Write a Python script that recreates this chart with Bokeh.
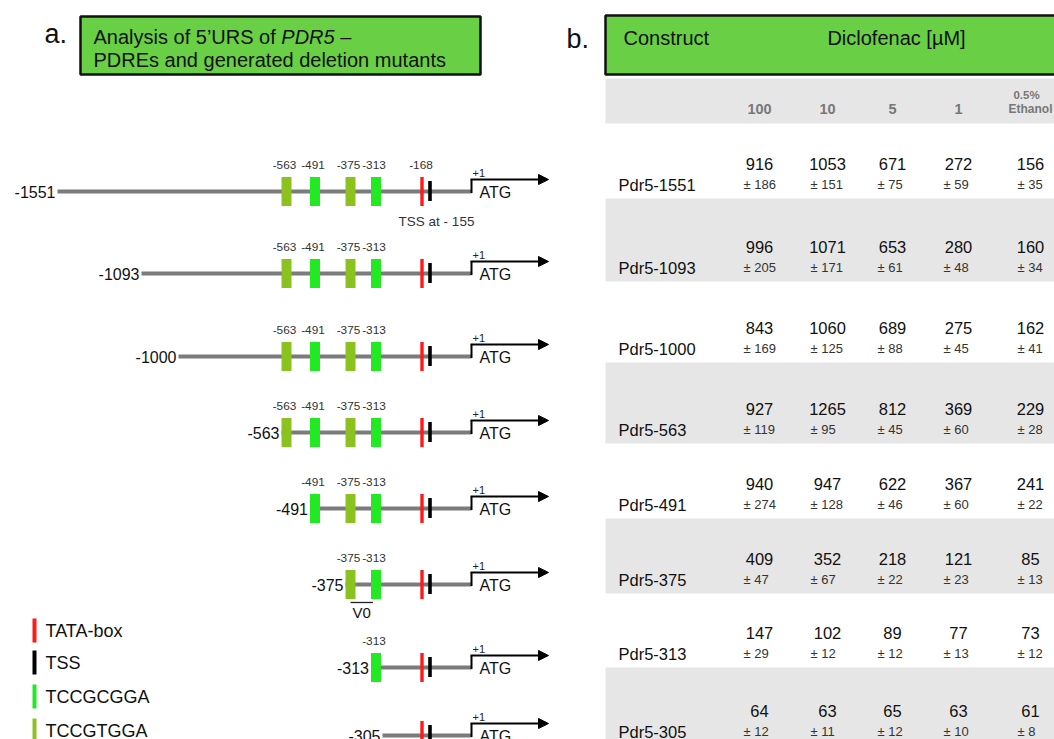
import numpy as np
from bokeh.plotting import figure
from bokeh.models import Range1d, Arrow, NormalHead
from bokeh.core.properties import value
from bokeh.embed import file_html
from bokeh.resources import INLINE

# ---------------- data ----------------
constructs = ["Pdr5-1551", "Pdr5-1093", "Pdr5-1000", "Pdr5-563",
              "Pdr5-491", "Pdr5-375", "Pdr5-313", "Pdr5-305"]
start_bp = [-1551, -1093, -1000, -563, -491, -375, -313, -305]
pdre_bp = [-563, -491, -375, -313]
pdre_motif = ["TCCGTGGA", "TCCGCGGA", "TCCGTGGA", "TCCGCGGA"]
tata_bp = -168
tss_bp = -155
atg_bp = 1
legend_items = ["TATA-box", "TSS", "TCCGCGGA", "TCCGTGGA"]

conc_labels = ["100", "10", "5", "1", "0.5%\nEthanol"]
mean_100 = [916, 996, 843, 927, 940, 409, 147, 64]
mean_10 = [1053, 1071, 1060, 1265, 947, 352, 102, 63]
mean_5 = [671, 653, 689, 812, 622, 218, 89, 65]
mean_1 = [272, 280, 275, 369, 367, 121, 77, 63]
mean_eth = [156, 160, 162, 229, 241, 85, 73, 61]
sd_100 = [186, 205, 169, 119, 274, 47, 29, 12]
sd_10 = [151, 171, 125, 95, 128, 67, 12, 11]
sd_5 = [75, 61, 88, 45, 46, 22, 12, 12]
sd_1 = [59, 48, 45, 60, 60, 23, 13, 10]
sd_eth = [35, 34, 41, 28, 22, 13, 12, 8]

# ---------------- layout / style ----------------
FONT = "Liberation Sans"
W, H = 1054, 739
GREEN_HDR = "#69CF45"
COL = {"TATA-box": "#FF1A1A", "TSS": "#000000",
       "TCCGCGGA": "#22EA22", "TCCGTGGA": "#8CC220"}
# schematic (not to scale) mapping of bp -> horizontal position
BP_ANCHOR = [-1551, -1093, -1000, -563, -491, -375, -313, -305, -168, -155, 1]
PX_ANCHOR = [57, 141, 178, 286, 314.5, 350, 375.5, 382, 421.5, 429.5, 471]
ROW_Y = [191, 273, 356, 432, 508, 584, 667, 735]
TABLE_EDGES = [124, 198, 281, 362, 443, 518, 593, 667, 745]
COL_CENTER = [759, 827, 892, 958, 1030]
COL_PM_LEFT = [743, 810, 877, 943, 1017]


def bx(bp):
    return float(np.interp(bp, BP_ANCHOR, PX_ANCHOR))


p = figure(width=W, height=H, x_range=Range1d(0, W), y_range=Range1d(H, 0),
           output_backend="svg", toolbar_location=None, min_border=0,
           outline_line_color=None, background_fill_color="white",
           border_fill_color="white")
p.axis.visible = False
p.grid.visible = False


def txt(x, y, s, size, color="#111111", align="left", baseline="middle", style="normal"):
    p.text(x=[x], y=[y], text=[s], text_font=value(FONT),
           text_font_size=value(f"{size}px"), text_color=color,
           text_align=align, text_baseline=baseline, text_font_style=style)


# ================= panel a =================
txt(44, 33, "a.", 27, baseline="alphabetic")
p.quad(left=[80], right=[480], top=[16], bottom=[74], fill_color=GREEN_HDR,
       line_color="#111111", line_width=2.5)
txt(93, 36, "Analysis of 5\u2019URS of", 20)
txt(93 + 187.8, 36, "PDR5", 20, style="italic")
txt(93 + 187.8 + 53.3 + 5.6, 36, "\u2013", 20)
txt(93, 59, "PDREs and generated deletion mutants", 20)

for r, (sbp, y) in enumerate(zip(start_bp, ROW_Y)):
    elems = [(b, m) for b, m in zip(pdre_bp, pdre_motif) if b >= sbp]
    x0 = bx(sbp)
    if elems and elems[0][0] == sbp:
        x0 -= 5
    # backbone
    p.segment(x0=[x0], y0=[y], x1=[bx(atg_bp)], y1=[y], line_color="#7B7B7B",
              line_width=3.8)
    # start label
    txt(x0 - 2, y, str(sbp), 16, align="right")
    # PDRE boxes + labels
    for b, m in elems:
        p.quad(left=[bx(b) - 5], right=[bx(b) + 5], top=[y - 14.5], bottom=[y + 14.5],
               fill_color=COL[m], line_color=None)
        txt(bx(b) - 2, y - 27, str(b), 11.8, color="#333333", align="center")
    # TATA & TSS
    p.quad(left=[bx(tata_bp) - 1.7], right=[bx(tata_bp) + 1.7], top=[y - 14.5],
           bottom=[y + 14.5], fill_color=COL["TATA-box"], line_color=None)
    p.quad(left=[bx(tss_bp) - 1.8], right=[bx(tss_bp) + 1.8], top=[y - 10.5],
           bottom=[y + 9.5], fill_color=COL["TSS"], line_color=None)
    # +1 arrow
    xa = bx(atg_bp)
    p.segment(x0=[xa], y0=[y + 1.5], x1=[xa], y1=[y - 12], line_color="black", line_width=2)
    p.add_layout(Arrow(end=NormalHead(size=10, fill_color="black", line_color="black"),
                       x_start=xa - 1, y_start=y - 12, x_end=548, y_end=y - 12,
                       line_color="black", line_width=2))
    txt(xa + 1, y - 19, "+1", 11, color="#222222")
    txt(xa + 8, y + 1, "ATG", 16)
    if r == 0:
        txt(bx(tata_bp) - 1, y - 27, str(tata_bp), 11.8, color="#333333", align="center")
        txt(bx(tss_bp) + 6.5, y + 30, "TSS at - " + str(-tss_bp), 13.5,
            color="#333333", align="center")
    if sbp == -375:
        xl, xr = bx(-375), bx(-313) - 3
        p.segment(x0=[xl], y0=[y + 18], x1=[xr], y1=[y + 18], line_color="#222222",
                  line_width=1.3)
        txt((xl + xr) / 2, y + 28, "V0", 15, align="center")

# legend
LEG_Y = [630, 662, 696, 730]
for lab, ly in zip(legend_items, LEG_Y):
    p.quad(left=[32], right=[36], top=[ly - 12], bottom=[ly + 12],
           fill_color=COL[lab], line_color=None)
    txt(45, ly, lab, 18)

# ================= panel b =================
txt(566, 38, "b.", 27, baseline="alphabetic")
p.quad(left=[605], right=[1080], top=[15], bottom=[74], fill_color=GREEN_HDR,
       line_color="#111111", line_width=2.5)
txt(623, 37, "Construct", 20)
txt(896, 37, "Diclofenac [\u00b5M]", 20, align="center")
p.quad(left=[605], right=[1080], top=[78], bottom=[123], fill_color="#E6E6E6",
       line_color=None)
for c, lab in zip(COL_CENTER, conc_labels):
    lines = lab.split("\n")
    if len(lines) == 1:
        txt(c, 108, lines[0], 14.5, color="#777777", align="center", style="bold")
    else:
        txt(c - 4, 94, lines[0], 11.5, color="#777777", align="center", style="bold")
        txt(c, 108, lines[1], 12, color="#777777", align="center", style="bold")

means = [mean_100, mean_10, mean_5, mean_1, mean_eth]
sds = [sd_100, sd_10, sd_5, sd_1, sd_eth]
for r, name in enumerate(constructs):
    top, bot = TABLE_EDGES[r], TABLE_EDGES[r + 1]
    if r % 2 == 1:
        p.quad(left=[605], right=[1080], top=[top], bottom=[bot], fill_color="#E6E6E6",
               line_color=None)
    txt(618, bot - 14, name, 16.5)
    for c in range(5):
        txt(COL_CENTER[c], bot - 35, str(means[c][r]), 16.5, align="center")
        txt(COL_PM_LEFT[c], bot - 14, "\u00b1 " + str(sds[c][r]), 13, color="#333333")

open("out.html", "w").write(file_html(p, INLINE))
